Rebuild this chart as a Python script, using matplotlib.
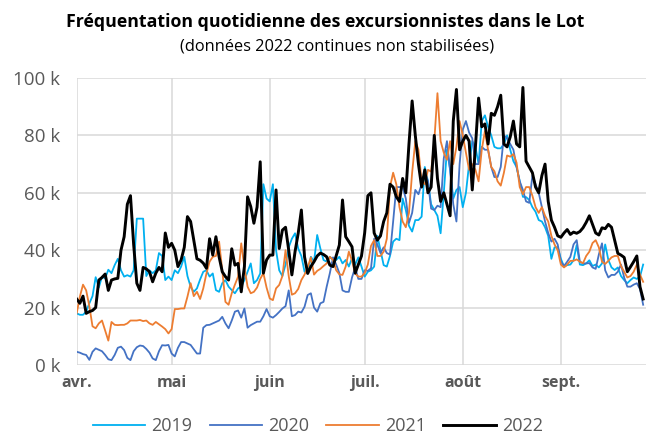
import numpy as np
import matplotlib
matplotlib.use("Agg")
import matplotlib.pyplot as plt

plt.rcParams['font.family'] = ['Open Sans', 'DejaVu Sans']

# daily values (thousands), 1 April -> 27 September
v2019 = [18, 17.5, 17.5, 18.6, 21.5, 24, 30.6, 27, 30.8, 30.2,
         33.2, 32, 34.8, 37, 33, 30.8, 31.3, 30.8, 33, 51,
         51, 51, 31, 33, 32, 33, 39, 38, 29.6, 30.8,
         29.6, 33, 32, 34.3, 37.7, 31, 27.3, 25.5, 26.7, 29.8,
         32.5, 33, 30.8, 31.9, 26.1, 25.5, 28.5, 29.6, 27.3, 26.1,
         25, 26.7, 27.3, 29.6, 32.5, 35.4, 28.5, 29.6, 31.9, 63,
         58, 57, 63, 40, 33, 31, 35, 41, 44, 45.9,
         40.6, 38, 32.5, 32, 37.7, 36, 45.3, 40.6, 36.6, 36,
         37.7, 36.6, 36.6, 37.7, 35.4, 36.6, 34.3, 37.2, 35, 37.5,
         34.3, 30.8, 32.5, 33, 34.3, 45, 40, 34.8, 34.3, 38,
         43, 44, 43.5, 58, 54, 48.5, 46.5, 50.5, 50.5, 51.7,
         69, 64, 56, 54, 52, 45.9, 60, 75, 68, 58,
         61, 62, 55, 60, 70, 78, 76, 70, 85, 87,
         83, 80, 76, 75.5, 75.5, 77, 80, 75, 71, 69,
         64, 58.6, 58.5, 57.5, 55, 53.4, 50.5, 50, 48, 45,
         37, 41, 41, 37, 34.3, 34.8, 35, 36.5, 41.8, 35,
         34.8, 35.4, 36.5, 34.5, 35, 34, 35.4, 42, 36.6, 34,
         33.1, 34, 31, 29.6, 28.5, 29.6, 30.5, 30, 30.8, 35]

v2020 = [4.6, 4.3, 3.8, 3.5, 1.8, 4.6, 5.8, 5.3, 4.8, 3.5,
         2.0, 1.7, 3.5, 6.0, 6.4, 5.2, 2.5, 1.7, 4.8, 6.2,
         6.8, 6.6, 5.6, 4.3, 2.3, 1.7, 4.8, 6.9, 6.8, 7,
         4, 3, 6, 8, 8, 7.5, 7, 5.5, 4, 4,
         13, 13.9, 14, 14.5, 15, 15.5, 16.8, 14.5, 12.8, 15.5,
         18.6, 19, 16.5, 19.7, 13, 13.9, 14.5, 15.1, 15.1, 17,
         19.5, 17, 16.5, 17.4, 18.5, 19.7, 20.5, 26, 17, 17.4,
         18.6, 18.3, 20.3, 24.4, 25, 20, 18.6, 21.5, 22, 27.3,
         32, 37.5, 35, 32, 26, 25.5, 25.5, 30.5, 34, 30,
         30, 33, 32.8, 33.7, 44, 42, 39, 41, 39, 38.5,
         50, 62, 62, 62, 58, 49.5, 53, 61, 59.5, 63,
         67, 64, 54.5, 54, 55.5, 55, 72, 78, 68, 56,
         50, 70, 82, 85, 81, 79, 70, 70, 76, 75,
         75, 69, 65.5, 65.5, 69, 80, 79, 77, 75, 69,
         64, 61, 57, 56.5, 66, 63, 60, 55, 50, 46,
         43, 44, 42, 36, 34.5, 36, 37.7, 42, 43.5, 36,
         35.4, 35.4, 35.5, 34, 33.5, 38.5, 42.4, 33, 30.5, 31.4,
         31.4, 32.5, 35, 30.5, 27.3, 27.3, 28, 28.5, 26.5, 21]

v2021 = [18, 23.8, 28, 26, 20.5, 13.5, 12.8, 14.5, 15.5, 12,
         8.5, 15, 14, 13.9, 14, 14, 14.5, 15.5, 15.5, 15.5,
         15.7, 15.3, 15.5, 14.5, 14, 15, 14.2, 13.4, 12.5, 11,
         12.5, 19.5, 19.5, 19.7, 19.7, 23.8, 28.5, 24, 25.5, 23,
         26.7, 31.9, 36, 37.7, 38, 43, 33, 22, 21, 25,
         28, 30.8, 42.4, 34, 27.3, 25, 25.5, 27, 30, 32,
         27, 23.2, 22.6, 26.7, 27.9, 31, 40, 31, 24.5, 25,
         26.5, 29.6, 31.5, 34, 37.5, 31.5, 32.8, 33.5, 34.5, 35.4,
         37.7, 36.6, 33, 31.6, 31.4, 34.3, 39.5, 36.3, 31.9, 30.8,
         30.8, 32, 35, 41.5, 43.5, 38, 38, 39.5, 44, 62,
         67, 63, 55, 50, 48, 53, 67, 78, 75, 64,
         63, 68, 67.4, 78, 94.7, 78, 74, 71.5, 78, 70,
         76, 85, 80, 74, 68, 70, 68, 64, 75, 81.5,
         75, 69, 67.5, 64, 62.5, 67, 73, 72.6, 73.5, 70.5,
         62, 59.5, 62, 62, 59, 55, 53, 55, 52, 50,
         45, 42, 40, 35, 34, 35, 36.3, 36.3, 36.8, 36,
         35.5, 38, 39.5, 42.5, 43.5, 41, 36, 35.2, 36.3, 37.5,
         38, 38, 34.5, 32.5, 30.5, 31, 32.5, 35, 31.5, 29]

v2022 = [23, 21.5, 24, 18, 18.6, 19, 20, 29.6, 30.5, 31.7,
         26, 29.6, 30, 30.2, 40, 44.7, 56, 59, 42, 28.5,
         26, 34, 33.5, 32.5, 29, 32, 34, 32.5, 46, 41,
         42.4, 40, 34.3, 36.6, 41, 51.7, 50, 43.5, 37, 36.5,
         35.5, 33.7, 44, 38.3, 44.7, 37.7, 32.5, 30.8, 29.6, 40.5,
         34.8, 35.4, 25.5, 34.3, 58.6, 55.2, 49.4, 55, 70.8, 32,
         36.6, 38.3, 38.3, 61, 40.6, 47, 48, 40, 31.4, 39.5,
         45.9, 54, 37.7, 31.9, 34.3, 36, 38, 39, 38.5, 37.7,
         34.8, 34.3, 38, 41.8, 57.5, 44.7, 43, 41.2, 32, 35,
         38, 46, 59, 60, 46, 43.5, 45, 50, 53, 63,
         62, 58.6, 57, 65, 60, 77, 92, 80, 70, 62,
         68, 60, 62, 80, 65, 57, 60, 56, 52, 85,
         96, 75, 78, 80, 78, 61, 76, 93, 83, 84,
         77, 87.7, 87, 90, 94, 77, 76, 79.5, 85, 77,
         76, 96.7, 71, 69, 67, 62, 60, 66, 70, 57,
         50.5, 48, 45, 44.5, 46, 47.2, 45.5, 46.3, 45.9, 46.5,
         47.8, 49.7, 52, 49, 46, 45.3, 47.8, 47.5, 49, 48,
         43.5, 38.9, 38.3, 37.5, 32.5, 34.2, 36, 38, 27.3, 23]

month_pos = [0, 30, 61, 91, 122, 153]
month_labels = ["avr.", "mai", "juin", "juil.", "août", "sept."]
y_ticks = [0, 20, 40, 60, 80, 100]
y_labels = ["0 k", "20 k", "40 k", "60 k", "80 k", "100 k"]

days = np.arange(len(v2022))
grey = "#595959"

fig = plt.figure(figsize=(6.46, 4.36), dpi=100)
ax = fig.add_axes([0.1187, 0.1628, 0.8813, 0.6583])

ax.plot(days, v2019, color="#00B0F0", lw=1.3, label="2019")
ax.plot(days, v2020, color="#4472C4", lw=1.3, label="2020")
ax.plot(days, v2021, color="#ED7D31", lw=1.3, label="2021")
ax.plot(days, v2022, color="black", lw=2.1, label="2022")

ax.set_xlim(0, 179.9)
ax.set_ylim(0, 100)
ax.set_xticks(month_pos)
ax.set_xticklabels(month_labels, fontweight="bold", color=grey, fontsize=11.5)
ax.set_yticks(y_ticks)
ax.set_yticklabels(y_labels, color=grey, fontsize=13.5)
ax.tick_params(length=0)
ax.tick_params(axis="y", pad=12)
ax.tick_params(axis="x", pad=7)
ax.grid(True, color="#D9D9D9", lw=1.1)
ax.set_axisbelow(True)
for s in ax.spines.values():
    s.set_visible(False)

fig.text(0.503, 0.95, "Fréquentation quotidienne des excursionnistes dans le Lot",
         ha="center", va="center", fontsize=12.8, fontweight="bold")
fig.text(0.522, 0.893, "(données 2022 continues non stabilisées)",
         ha="center", va="center", fontsize=11.8)

leg = fig.legend(loc="center", bbox_to_anchor=(0.492, 0.022), ncol=4,
                 frameon=False, fontsize=13, handlelength=2.9,
                 handletextpad=0.35, columnspacing=0.95)
for t in leg.get_texts():
    t.set_color(grey)

fig.savefig("out.png", dpi=100)
